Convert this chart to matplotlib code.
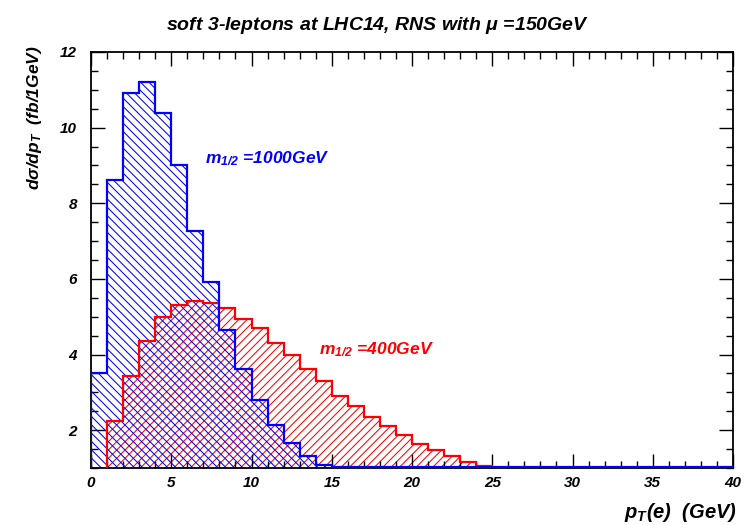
import matplotlib
matplotlib.use("Agg")
import matplotlib.pyplot as plt
import numpy as np
from matplotlib.ticker import MultipleLocator

# ---- data ----
bin_edges = list(range(0, 41))
blue_values = [3.52, 8.61, 10.92, 11.21, 10.39, 9.01, 7.26, 5.93, 4.66, 3.61,
               2.81, 2.14, 1.67, 1.33, 1.08, 1.02, 1.02, 1.02, 1.02, 1.02,
               1.02, 1.02, 1.02, 1.02, 1.02, 1.02, 1.02, 1.02, 1.02, 1.02,
               1.02, 1.02, 1.02, 1.02, 1.02, 1.02, 1.02, 1.02, 1.02, 1.02]
red_values = [0.0, 2.25, 3.43, 4.36, 5.00, 5.31, 5.41, 5.37, 5.24, 4.95,
              4.69, 4.30, 3.98, 3.61, 3.30, 2.91, 2.63, 2.35, 2.12, 1.87,
              1.63, 1.48, 1.33, 1.17, 1.06, 1.00, 1.00, 1.00, 1.00, 1.00,
              1.00, 1.00, 1.00, 1.00, 1.00, 1.00, 1.00, 1.00, 1.00, 1.00]
blue_label = r"m$_{1/2}$ =1000GeV"
red_label = r"m$_{1/2}$ =400GeV"
title = r"soft 3-leptons at LHC14, RNS with $\mathsf{\mu}$ =150GeV"
ylabel = r"d$\mathsf{\sigma}$/dp$_T$  (fb/1GeV)"
xlabel = r"p$_T$(e)  (GeV)"

FONT = "Liberation Sans"
plt.rcParams["font.family"] = [FONT, "DejaVu Sans"]
plt.rcParams["font.weight"] = "bold"
plt.rcParams["font.style"] = "italic"
plt.rcParams["mathtext.fontset"] = "custom"
plt.rcParams["mathtext.it"] = "Liberation Sans:bold:italic"
plt.rcParams["mathtext.rm"] = "Liberation Sans:bold:italic"
plt.rcParams["mathtext.sf"] = "Liberation Sans"
plt.rcParams["hatch.linewidth"] = 0.75

fig = plt.figure(figsize=(7.44, 5.25), dpi=100)
ax = fig.add_axes([91/744, 1 - 468/525, (733-91)/744, (468-52)/525])

BLUE = "#0000ff"
RED = "#ff0000"

ax.stairs(red_values, bin_edges, baseline=0, fill=True, facecolor="none",
          edgecolor=RED, hatch="////", linewidth=0, zorder=1)
ax.stairs(blue_values, bin_edges, baseline=0, fill=True, facecolor="none",
          edgecolor=BLUE, hatch="\\\\\\\\", linewidth=0, zorder=2)
ax.stairs(red_values, bin_edges, baseline=0, color=RED, linewidth=1.6, zorder=3)
ax.stairs(blue_values, bin_edges, baseline=0, color=BLUE, linewidth=1.6, zorder=4)

ax.set_xlim(0, 40)
ax.set_ylim(1, 12)
ax.xaxis.set_major_locator(MultipleLocator(5))
ax.xaxis.set_minor_locator(MultipleLocator(1))
ax.yaxis.set_major_locator(MultipleLocator(2))
ax.yaxis.set_minor_locator(MultipleLocator(0.5))
ax.tick_params(which="both", direction="in", top=True, right=True, width=1.0)
ax.tick_params(which="major", length=10)
ax.tick_params(which="minor", length=5)
ax.tick_params(axis="y", pad=10)
ax.tick_params(axis="x", pad=6)
for lab in ax.get_xticklabels() + ax.get_yticklabels():
    lab.set_fontsize(11)
    lab.set_fontweight("bold")
    lab.set_fontstyle("italic")
for sp in ax.spines.values():
    sp.set_linewidth(1.3)

ax.text(7.1, 9.06, blue_label, color=BLUE, fontsize=12.5, fontweight="bold",
        fontstyle="italic", ha="left", va="baseline")
ax.text(14.2, 4.0, red_label, color=RED, fontsize=12.5, fontweight="bold",
        fontstyle="italic", ha="left", va="baseline")

fig.text(378/744, 1 - 29.5/525, title, fontsize=14, fontweight="bold",
         fontstyle="italic", ha="center", va="baseline")
fig.text(35/744, 1 - 45/525, ylabel, fontsize=12.5, fontweight="bold",
         fontstyle="italic", rotation=90, ha="center", va="top")
fig.text(737/744, 1 - 512/525, xlabel, fontsize=14.5, fontweight="bold",
         fontstyle="italic", ha="right", va="center")

fig.savefig("out.png", dpi=100)
